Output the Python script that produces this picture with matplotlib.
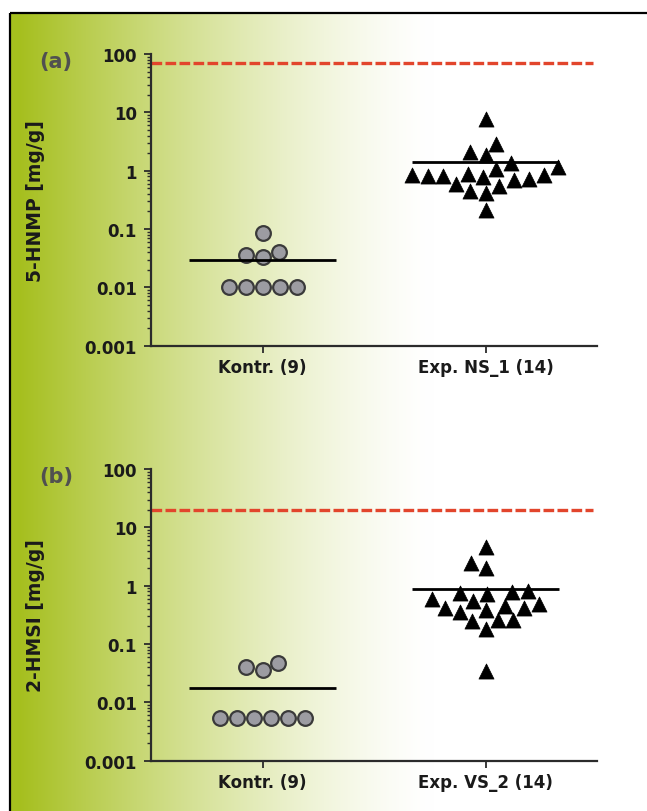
import matplotlib
matplotlib.use('Agg')
import matplotlib.pyplot as plt
import numpy as np
from matplotlib.ticker import LogLocator, NullFormatter, FixedLocator, FixedFormatter

# ---- data ----
groups_a = ['Kontr. (9)', 'Exp. NS_1 (14)']
groups_b = ['Kontr. (9)', 'Exp. VS_2 (14)']

kontr_a = [0.01, 0.01, 0.01, 0.01, 0.01, 0.0335, 0.036, 0.041, 0.084]
exp_a = [7.7, 2.9, 2.06, 1.86, 1.36, 1.14, 1.07, 0.82, 0.72, 0.87, 0.85, 0.85,
         0.70, 0.77, 0.82, 0.59, 0.55, 0.45, 0.42, 0.21]
mean_a = [0.029, 1.4]
limit_a = 70

kontr_b = [0.0055, 0.0055, 0.0055, 0.0055, 0.0055, 0.0055, 0.040, 0.036, 0.047]
exp_b = [4.56, 2.42, 2.01, 0.74, 0.80, 0.77, 0.72, 0.59, 0.55, 0.485, 0.45,
         0.41, 0.38, 0.41, 0.35, 0.26, 0.245, 0.26, 0.18, 0.035]
mean_b = [0.0175, 0.88]
limit_b = 20

panel_tags = ['(a)', '(b)']
ylabels = ['5-HNMP [mg/g]', '2-HMSI [mg/g]']
yticks = [0.001, 0.01, 0.1, 1, 10, 100]
yticklabels = ['0.001', '0.01', '0.1', '1', '10', '100']

W, H = 647, 812
fig = plt.figure(figsize=(W / 100, H / 100), dpi=100)

# background: green-to-white gradient with a frame on top/left
bg = fig.add_axes([0, 0, 1, 1], zorder=-5)
bg.set_xlim(0, W)
bg.set_ylim(H, 0)
bg.axis('off')
green = np.array([0.65, 0.75, 0.12])
xs = np.arange(W)
t = np.clip((xs - 10) / 420.0, 0, 1)
mix = (1 - t) ** 1.4
row = 1 - mix[:, None] * (1 - green[None, :])
grad = np.repeat(row[None, :, :], 2, axis=0)
bg.imshow(grad, extent=[10, W, H, 14], aspect='auto', interpolation='bilinear')
bg.plot([10, W], [14, 14], color='black', lw=1.6, solid_capstyle='butt')
bg.plot([10, 10], [14, H], color='black', lw=1.6, solid_capstyle='butt')


def swarm(values, ax, d_px=16.0):
    """simple beeswarm offsets (data x units) for a log y axis"""
    fig.canvas.draw()
    bbox = ax.get_window_extent()
    x0, x1 = ax.get_xlim()
    y0, y1 = ax.get_ylim()
    px_x = bbox.width / (x1 - x0)
    px_dec = bbox.height / (np.log10(y1) - np.log10(y0))
    y = np.log10(values) * px_dec
    order = np.argsort(y, kind='stable')
    off = np.zeros(len(values))
    placed = []
    for i in order:
        cands = [0.0]
        for j in placed:
            dy = y[i] - y[j]
            if abs(dy) < d_px:
                dx = np.sqrt(d_px ** 2 - dy ** 2)
                cands += [off[j] + dx, off[j] - dx]
        cands.sort(key=lambda c: (abs(c), c))
        for c in cands:
            if all((c - off[j]) ** 2 + (y[i] - y[j]) ** 2 >= d_px ** 2 - 1e-6 for j in placed):
                off[i] = c
                break
        placed.append(i)
    # centre rows of identical values that stand alone
    vals = np.asarray(values)
    for v in np.unique(vals):
        idx = np.where(vals == v)[0]
        if len(idx) > 1:
            others = np.where(vals != v)[0]
            if all(abs(y[k] - y[idx[0]]) >= d_px for k in others):
                off[idx] -= off[idx].mean()
    return off / px_x


tops = [55, 470]
ax_h = 291.7 / H
for p, (kontr, exp, means, lim, groups) in enumerate([
        (kontr_a, exp_a, mean_a, limit_a, groups_a),
        (kontr_b, exp_b, mean_b, limit_b, groups_b)]):
    top = 1 - tops[p] / H
    ax = fig.add_axes([151 / W, top - ax_h, 446 / W, ax_h])
    ax.set_facecolor('none')
    ax.set_yscale('log')
    ax.set_xlim(0.5, 2.5)
    ax.set_ylim(0.001, 100)
    for s in ['top', 'right']:
        ax.spines[s].set_visible(False)
    for s in ['left', 'bottom']:
        ax.spines[s].set_color('#2b2b2b')
        ax.spines[s].set_linewidth(1.6)

    ax.yaxis.set_major_locator(FixedLocator(yticks))
    ax.yaxis.set_major_formatter(FixedFormatter(yticklabels))
    ax.yaxis.set_minor_locator(LogLocator(base=10, subs=np.arange(2, 10)))
    ax.yaxis.set_minor_formatter(NullFormatter())
    ax.tick_params(axis='y', which='major', length=5, width=1.3, color='#2b2b2b', pad=5)
    ax.tick_params(axis='y', which='minor', length=2.8, width=1.0, color='#2b2b2b')
    ax.set_xticks([1, 2])
    ax.set_xticklabels(groups)
    ax.tick_params(axis='x', length=5, width=1.3, color='#2b2b2b', pad=4)
    for lab in ax.get_xticklabels() + ax.get_yticklabels():
        lab.set_fontweight('bold')
        lab.set_fontsize(12)
        lab.set_color('#1a1a1a')

    ax.set_ylabel(ylabels[p], fontsize=13.5, fontweight='bold', color='#1a1a1a')
    ax.yaxis.set_label_coords(-0.238, 0.5)

    ax.hlines(lim, 0.5, 2.48, colors='#e2452c', lw=2.4, linestyles=(0, (3.2, 1.0)), zorder=2)

    ko = swarm(kontr, ax, d_px=17.0)
    eo = swarm(exp, ax, d_px=15.5)
    ax.scatter(1 + ko, kontr, s=112, marker='o', facecolor='#9c9ca2',
               edgecolor='#3a3a3a', linewidth=1.6, zorder=3, clip_on=False)
    ax.scatter(2 + eo, exp, s=118, marker='^', facecolor='black',
               edgecolor='black', linewidth=0.5, zorder=3, clip_on=False)
    for c, m in zip([1, 2], means):
        ax.hlines(m, c - 0.33, c + 0.33, colors='black', lw=2.0, zorder=4)

    fig.text(56 / W, 1 - (tops[p] + 7) / H, panel_tags[p], ha='center', va='center',
             fontsize=15, fontweight='bold', color='#505050')

fig.savefig('out.png', dpi=100)
